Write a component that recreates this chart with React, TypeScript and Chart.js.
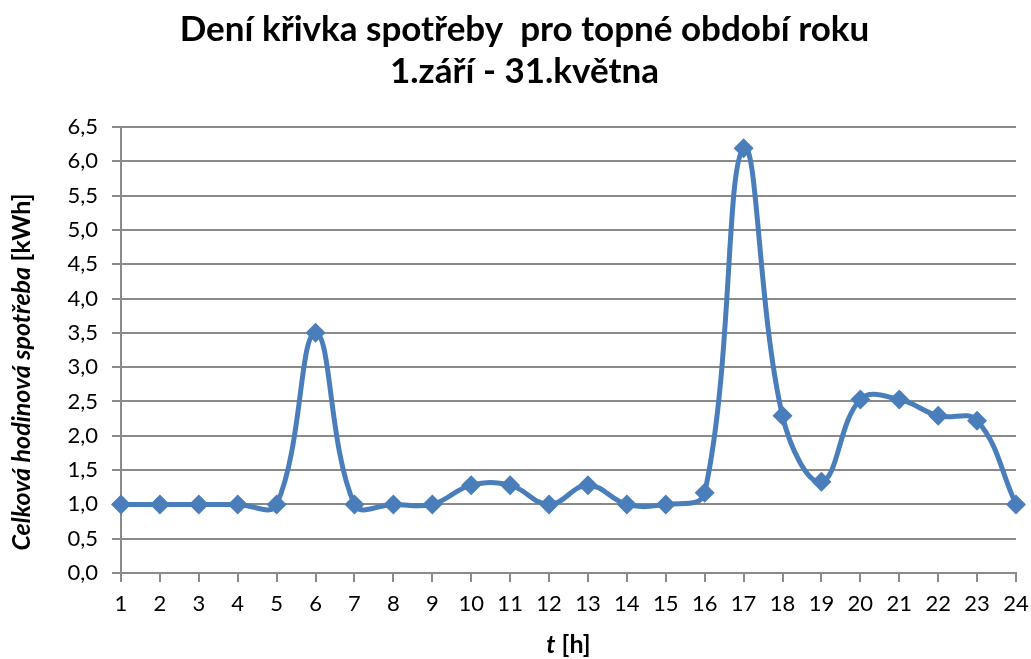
import React, { useEffect, useRef } from "react";
import { Chart, registerables } from "chart.js";

Chart.register(...registerables);

const hours: string[] = [
  "1", "2", "3", "4", "5", "6", "7", "8", "9", "10", "11", "12",
  "13", "14", "15", "16", "17", "18", "19", "20", "21", "22", "23", "24",
];
const consumption: number[] = [
  1.0, 1.0, 1.0, 1.0, 1.0, 3.5, 1.0, 1.0, 1.0, 1.28, 1.28, 1.0,
  1.28, 1.0, 1.0, 1.17, 6.19, 2.29, 1.33, 2.53, 2.53, 2.29, 2.22, 1.0,
];
const titleLines: string[] = ["Dení křivka spotřeby  pro topné období roku", "1.září - 31.května"];
const yTitleItalic = "Celková hodinová spotřeba ";
const yTitleNormal = "[kWh]";
const xTitleItalic = "t";
const xTitleNormal = " [h]";
const yMin = 0;
const yMax = 6.5;
const yStep = 0.5;

const FONT = "Lato, 'Noto Sans', sans-serif";
const BLUE = "#4A7EBB";
const GRID = "#8A8A8A";

const axisTitlePlugin = {
  id: "axisTitles",
  afterDraw(chart: any) {
    const ctx = chart.ctx;
    const area = chart.chartArea;
    ctx.save();
    ctx.fillStyle = "#000";
    ctx.textBaseline = "middle";
    ctx.textAlign = "left";
    const fi = `italic bold 25px ${FONT}`;
    const fn = `bold 25px ${FONT}`;
    // y title
    ctx.font = fi;
    const w1 = ctx.measureText(yTitleItalic).width;
    ctx.font = fn;
    const w2 = ctx.measureText(yTitleNormal).width;
    const cy = (area.top + area.bottom) / 2 + 22;
    ctx.translate(22, cy);
    ctx.rotate(-Math.PI / 2);
    const start = -(w1 + w2) / 2;
    ctx.font = fi;
    ctx.fillText(yTitleItalic, start, 0);
    ctx.font = fn;
    ctx.fillText(yTitleNormal, start + w1, 0);
    ctx.setTransform(1, 0, 0, 1, 0, 0);
    // x title
    ctx.font = fi;
    const v1 = ctx.measureText(xTitleItalic).width;
    ctx.font = fn;
    const v2 = ctx.measureText(xTitleNormal).width;
    const cx = (area.left + area.right) / 2;
    const xs = cx - (v1 + v2) / 2;
    const ty = 645;
    ctx.font = fi;
    ctx.fillText(xTitleItalic, xs, ty);
    ctx.font = fn;
    ctx.fillText(xTitleNormal, xs + v1, ty);
    ctx.restore();
  },
};

export default function App() {
  const canvasRef = useRef<HTMLCanvasElement | null>(null);

  useEffect(() => {
    document.body.style.margin = "0";
    const canvas = canvasRef.current;
    if (!canvas) return;
    const chart = new Chart(canvas, {
      type: "line",
      data: {
        labels: hours,
        datasets: [
          {
            data: consumption,
            borderColor: BLUE,
            backgroundColor: BLUE,
            borderWidth: 5,
            tension: 0.4,
            pointStyle: "rectRot",
            pointRadius: 10,
            pointBorderWidth: 0,
            pointBackgroundColor: BLUE,
            pointBorderColor: BLUE,
            fill: false,
          },
        ],
      },
      options: {
        animation: false,
        responsive: true,
        maintainAspectRatio: false,
        layout: { padding: { left: 18, right: 0, top: 0, bottom: 0 } },
        plugins: {
          legend: { display: false },
          tooltip: { enabled: false },
          title: {
            display: true,
            text: titleLines,
            color: "#000",
            font: { family: FONT, size: 35, weight: "bold", lineHeight: 1.2 },
            padding: { top: 9, bottom: 34 },
          },
        },
        scales: {
          x: {
            type: "category",
            offset: false,
            grid: {
              display: true,
              drawOnChartArea: false,
              drawTicks: true,
              tickLength: 9,
              color: GRID,
              lineWidth: 2,
            },
            border: { display: true, color: GRID, width: 2 },
            ticks: {
              color: "#000",
              font: { family: FONT, size: 22 },
              padding: 9,
              maxRotation: 0,
              autoSkip: false,
            },
            afterFit(scale: any) {
              scale.height = 86;
              scale.paddingRight = 15;
            },
          },
          y: {
            min: yMin,
            max: yMax,
            grid: {
              display: true,
              drawOnChartArea: true,
              drawTicks: true,
              tickLength: 9,
              color: GRID,
              lineWidth: 2,
            },
            border: { display: true, color: GRID, width: 2 },
            ticks: {
              stepSize: yStep,
              color: "#000",
              font: { family: FONT, size: 22 },
              padding: 14,
              callback: (v: any) => Number(v).toFixed(1).replace(".", ","),
            },
            afterFit(scale: any) {
              scale.width = 103;
            },
          },
        },
      },
      plugins: [axisTitlePlugin],
    });
    return () => chart.destroy();
  }, []);

  return (
    <div style={{ position: "fixed", left: 0, top: 0, width: 1031, height: 659, background: "#fff" }}>
      <canvas ref={canvasRef} />
    </div>
  );
}
